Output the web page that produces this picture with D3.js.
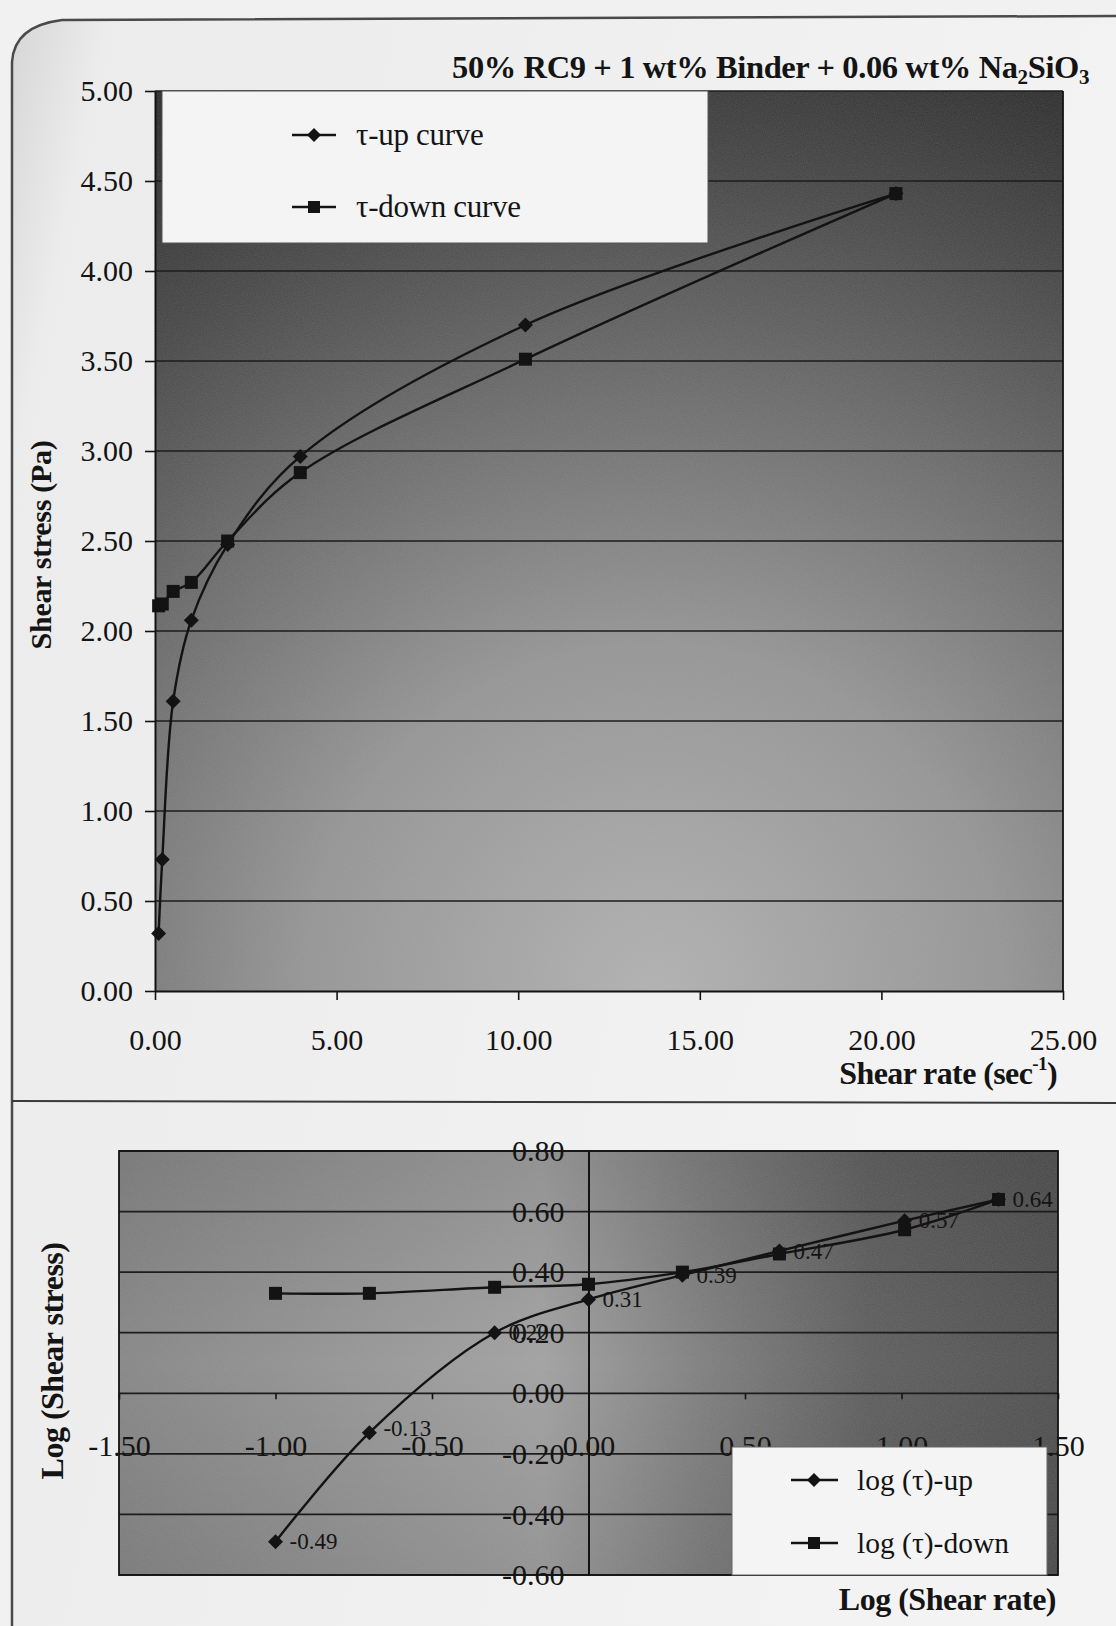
<!DOCTYPE html>
<html><head><meta charset="utf-8">
<script src="https://cdn.jsdelivr.net/npm/d3@7"></script>
<style>
body{margin:0;background:#eeeeee;}
svg{display:block;}
text{font-family:"Liberation Serif","Times New Roman",serif;fill:#141414;}
</style></head><body>
<svg id="c" width="1116" height="1626"></svg>
<script>
// ---------- data ----------
const shearRate = [0.1, 0.2, 0.5, 1.0, 2.0, 4.0, 10.2, 20.4];
const tauUp     = [0.32, 0.73, 1.61, 2.06, 2.48, 2.97, 3.70, 4.43];
const tauDown   = [2.14, 2.15, 2.22, 2.27, 2.50, 2.88, 3.51, 4.43];
const logRate    = [-1.00, -0.70, -0.30, 0.00, 0.30, 0.61, 1.01, 1.31];
const logTauUp   = [-0.49, -0.13, 0.20, 0.31, 0.39, 0.47, 0.57, 0.64];
const logTauDown = [0.33, 0.33, 0.35, 0.36, 0.40, 0.46, 0.54, 0.64];
const topXTicks = [0, 5, 10, 15, 20, 25];
const topYTicks = [0, 0.5, 1, 1.5, 2, 2.5, 3, 3.5, 4, 4.5, 5];
const botXTicks = [-1.5, -1, -0.5, 0, 0.5, 1, 1.5];
const botYTicks = [-0.6, -0.4, -0.2, 0, 0.2, 0.4, 0.6, 0.8];
const topSeries = ["τ-up curve", "τ-down curve"];
const botSeries = ["log (τ)-up", "log (τ)-down"];

const svg = d3.select("#c");
const defs = svg.append("defs");
const ink = "#131313";

// gradients
const rg = defs.append("radialGradient").attr("id","gTop")
  .attr("cx",0.55).attr("cy",1.0).attr("r",1.1).attr("fx",0.55).attr("fy",1.0);
[[0,"#b2b2b2"],[0.35,"#959595"],[0.62,"#686868"],[0.82,"#454545"],[1,"#2a2a2a"]]
  .forEach(s=>rg.append("stop").attr("offset",s[0]).attr("stop-color",s[1]));
const lg = defs.append("linearGradient").attr("id","gBot").attr("x1",0).attr("y1",0).attr("x2",1).attr("y2",0);
[[0,"#868686"],[0.3,"#999"],[0.45,"#a2a2a2"],[0.62,"#7e7e7e"],[0.8,"#5c5c5c"],[1,"#4e4e4e"]]
  .forEach(s=>lg.append("stop").attr("offset",s[0]).attr("stop-color",s[1]));
const lgv = defs.append("linearGradient").attr("id","gBotV").attr("x1",0).attr("y1",0).attr("x2",0).attr("y2",1);
[[0,"#000",0.12],[0.5,"#000",0],[1,"#000",0.1]]
  .forEach(s=>lgv.append("stop").attr("offset",s[0]).attr("stop-color",s[1]).attr("stop-opacity",s[2]));
const pg = defs.append("linearGradient").attr("id","gPage").attr("x1",0).attr("y1",0).attr("x2",1).attr("y2",0.3);
[[0,"#d6d6d6"],[0.08,"#ececec"],[1,"#f3f3f3"]]
  .forEach(s=>pg.append("stop").attr("offset",s[0]).attr("stop-color",s[1]));
const f = defs.append("filter").attr("id","grain").attr("x",0).attr("y",0).attr("width",1).attr("height",1);
f.append("feTurbulence").attr("type","fractalNoise").attr("baseFrequency",0.9).attr("numOctaves",2).attr("seed",3);
f.append("feColorMatrix").attr("type","matrix").attr("values","0 0 0 0 0.5  0 0 0 0 0.5  0 0 0 0 0.5  0 0 0 0.35 0");
f.append("feComposite").attr("in2","SourceGraphic").attr("operator","in");

// page + frame
svg.append("rect").attr("width",1116).attr("height",1626).attr("fill","#f1f1f1");
svg.append("path").attr("d","M12,1626 L12,62 Q14,26 62,20 L1116,16 L1116,1626 Z").attr("fill","url(#gPage)");
svg.append("path").attr("d","M12,1626 L12,62 Q14,26 62,20 L1116,16").attr("fill","none").attr("stroke","#4a4a4a").attr("stroke-width",2.5);
svg.append("line").attr("x1",12).attr("x2",1116).attr("y1",1101).attr("y2",1103).attr("stroke","#3a3a3a").attr("stroke-width",2);

function diamond(s){return `M0,${-s}L${s},0L0,${s}L${-s},0Z`;}
function square(s){return `M${-s},${-s}H${s}V${s}H${-s}Z`;}
const fmt2 = d => (+d).toFixed(2);
function styleAxis(g, fs){
  g.select(".domain").attr("stroke",ink).attr("stroke-width",2);
  g.selectAll(".tick line").attr("stroke",ink).attr("stroke-width",1.6);
  g.selectAll("text").attr("font-size",fs).attr("fill",ink).style("font-family",'"Liberation Serif","Times New Roman",serif');
}

// ================= TOP CHART =================
const xT = d3.scaleLinear().domain([0,25]).range([155,1063]);
const yT = d3.scaleLinear().domain([0,5]).range([991,91]);
const topG = svg.append("g");
topG.append("rect").attr("x",xT(0)).attr("y",yT(5)).attr("width",xT(25)-xT(0)).attr("height",yT(0)-yT(5)).attr("fill","url(#gTop)");
topG.append("rect").attr("x",xT(0)).attr("y",yT(5)).attr("width",xT(25)-xT(0)).attr("height",yT(0)-yT(5)).attr("filter","url(#grain)").attr("fill","#888").attr("opacity",0.55);
topG.append("g").selectAll("line").data(topYTicks.filter(d=>d>0)).join("line")
  .attr("x1",xT(0)).attr("x2",xT(25)).attr("y1",d=>yT(d)).attr("y2",d=>yT(d))
  .attr("stroke","#1c1c1c").attr("stroke-width",1.7);
topG.append("line").attr("x1",xT(25)).attr("x2",xT(25)).attr("y1",yT(5)).attr("y2",yT(0)).attr("stroke",ink).attr("stroke-width",1.8);

// legend (top)
const lgT = topG.append("g");
lgT.append("rect").attr("x",162).attr("y",yT(5)).attr("width",546).attr("height",152).attr("fill","#f4f4f4").attr("stroke","#555").attr("stroke-width",1);
[[135,diamond(7)],[207,square(6)]].forEach((e,i)=>{
  lgT.append("line").attr("x1",292).attr("x2",336).attr("y1",e[0]).attr("y2",e[0]).attr("stroke",ink).attr("stroke-width",2.4);
  lgT.append("path").attr("d",e[1]).attr("transform",`translate(314,${e[0]})`).attr("fill",ink);
  lgT.append("text").attr("x",356).attr("y",e[0]).attr("dy","0.33em").attr("font-size",31).attr("letter-spacing",-0.3).text(topSeries[i]);
});

const ax1 = topG.append("g").attr("transform",`translate(${xT(0)},0)`)
  .call(d3.axisLeft(yT).tickValues(topYTicks).tickFormat(fmt2).tickSize(10).tickSizeOuter(0).tickPadding(12));
styleAxis(ax1, 30);
const ax2 = topG.append("g").attr("transform",`translate(0,${yT(0)})`)
  .call(d3.axisBottom(xT).tickValues(topXTicks).tickFormat(fmt2).tickSize(9).tickSizeOuter(0).tickPadding(29));
styleAxis(ax2, 30);

const lineT = d3.line().x(d=>xT(d[0])).y(d=>yT(d[1])).curve(d3.curveCatmullRom.alpha(0.5));
const upT = shearRate.map((x,i)=>[x,tauUp[i]]);
const dnT = shearRate.map((x,i)=>[x,tauDown[i]]);
topG.append("path").attr("d",lineT(upT)).attr("fill","none").attr("stroke",ink).attr("stroke-width",2.4);
topG.append("path").attr("d",lineT(dnT)).attr("fill","none").attr("stroke",ink).attr("stroke-width",2.4);
topG.append("g").selectAll("path").data(upT).join("path").attr("d",diamond(7.5))
  .attr("transform",d=>`translate(${xT(d[0])},${yT(d[1])})`).attr("fill",ink);
topG.append("g").selectAll("path").data(dnT).join("path").attr("d",square(6.5))
  .attr("transform",d=>`translate(${xT(d[0])},${yT(d[1])})`).attr("fill",ink);

// titles
const t = svg.append("text").attr("x",1089).attr("y",78).attr("text-anchor","end").attr("font-size",32.5).attr("font-weight","bold").attr("letter-spacing",-0.4);
t.append("tspan").text("50% RC9 + 1 wt% Binder + 0.06 wt% Na");
t.append("tspan").attr("font-size",21).attr("dy",6).text("2");
t.append("tspan").attr("dy",-6).text("SiO");
t.append("tspan").attr("font-size",21).attr("dy",6).text("3");
svg.append("text").attr("transform","translate(51,545) rotate(-90)").attr("text-anchor","middle")
  .attr("font-size",30).attr("font-weight","bold").attr("letter-spacing",-0.3).text("Shear stress (Pa)");
const xt = svg.append("text").attr("x",1057).attr("y",1084).attr("text-anchor","end").attr("font-size",32).attr("font-weight","bold").attr("letter-spacing",-0.6);
xt.append("tspan").text("Shear rate (sec");
xt.append("tspan").attr("font-size",19).attr("dy",-14).text("-1");
xt.append("tspan").attr("dy",14).text(")");

// ================= BOTTOM CHART =================
const xB = d3.scaleLinear().domain([-1.5,1.5]).range([119,1058]);
const yB = d3.scaleLinear().domain([-0.6,0.8]).range([1575,1151]);
const botG = svg.append("g");
const bw = xB(1.5)-xB(-1.5), bh = yB(-0.6)-yB(0.8);
botG.append("rect").attr("x",xB(-1.5)).attr("y",yB(0.8)).attr("width",bw).attr("height",bh).attr("fill","url(#gBot)");
botG.append("rect").attr("x",xB(-1.5)).attr("y",yB(0.8)).attr("width",bw).attr("height",bh).attr("fill","url(#gBotV)");
botG.append("rect").attr("x",xB(-1.5)).attr("y",yB(0.8)).attr("width",bw).attr("height",bh).attr("filter","url(#grain)").attr("fill","#888").attr("opacity",0.55);
botG.append("g").selectAll("line").data(botYTicks).join("line")
  .attr("x1",xB(-1.5)).attr("x2",xB(1.5)).attr("y1",d=>yB(d)).attr("y2",d=>yB(d))
  .attr("stroke","#1c1c1c").attr("stroke-width",1.7);
botG.append("rect").attr("x",xB(-1.5)).attr("y",yB(0.8)).attr("width",bw).attr("height",bh)
  .attr("fill","none").attr("stroke",ink).attr("stroke-width",1.8);

// legend (bottom)
const lgB = botG.append("g");
lgB.append("rect").attr("x",732).attr("y",1447).attr("width",315).attr("height",128).attr("fill","#f4f4f4").attr("stroke","#666").attr("stroke-width",1);

const ay = botG.append("g").attr("transform",`translate(${xB(0)},0)`)
  .call(d3.axisLeft(yB).tickValues(botYTicks).tickFormat(fmt2).tickSize(0).tickPadding(24));
styleAxis(ay, 30);
const axb = botG.append("g").attr("transform",`translate(0,${yB(0)})`)
  .call(d3.axisBottom(xB).tickValues(botXTicks).tickFormat(fmt2).tickSize(6).tickSizeOuter(0).tickPadding(35));
styleAxis(axb, 30);
axb.select(".domain").remove();

[[1480,diamond(7)],[1543,square(6)]].forEach((e,i)=>{
  lgB.append("line").attr("x1",791).attr("x2",838).attr("y1",e[0]).attr("y2",e[0]).attr("stroke",ink).attr("stroke-width",2.4);
  lgB.append("path").attr("d",e[1]).attr("transform",`translate(814,${e[0]})`).attr("fill",ink);
  lgB.append("text").attr("x",857).attr("y",e[0]).attr("dy","0.33em").attr("font-size",29.5).text(botSeries[i]);
});
lgB.raise();

const lineB = d3.line().x(d=>xB(d[0])).y(d=>yB(d[1])).curve(d3.curveCatmullRom.alpha(0.5));
const upB = logRate.map((x,i)=>[x,logTauUp[i]]);
const dnB = logRate.map((x,i)=>[x,logTauDown[i]]);
botG.append("path").attr("d",lineB(dnB)).attr("fill","none").attr("stroke",ink).attr("stroke-width",2.4);
botG.append("path").attr("d",lineB(upB)).attr("fill","none").attr("stroke",ink).attr("stroke-width",2.4);
botG.append("g").selectAll("path").data(dnB).join("path").attr("d",square(6.5))
  .attr("transform",d=>`translate(${xB(d[0])},${yB(d[1])})`).attr("fill",ink);
botG.append("g").selectAll("path").data(upB).join("path").attr("d",diamond(7.5))
  .attr("transform",d=>`translate(${xB(d[0])},${yB(d[1])})`).attr("fill",ink);
botG.append("g").selectAll("text").data(upB).join("text")
  .attr("x",d=>xB(d[0])+14).attr("y",d=>yB(d[1])-(d[1]===-0.13?4:0)).attr("dy","0.33em")
  .attr("font-size",23).attr("fill","#111").text(d=>fmt2(d[1]));

svg.append("text").attr("transform","translate(63,1361) rotate(-90)").attr("text-anchor","middle")
  .attr("font-size",32).attr("font-weight","bold").attr("letter-spacing",-0.5).text("Log (Shear stress)");
svg.append("text").attr("x",1056).attr("y",1610).attr("text-anchor","end")
  .attr("font-size",32).attr("font-weight","bold").attr("letter-spacing",-0.5).text("Log (Shear rate)");
</script>
</body></html>
